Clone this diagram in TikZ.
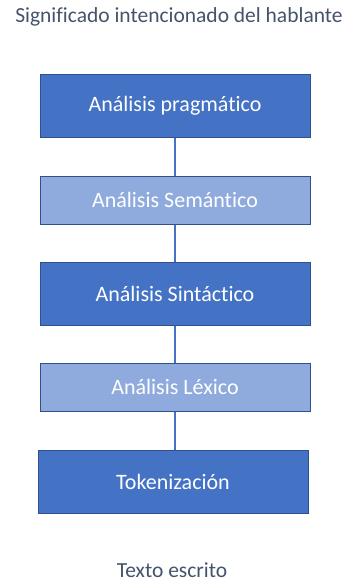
\documentclass[tikz,border=0pt]{standalone}
\usepackage{fontspec}
\setmainfont{Carlito}[Ligatures={NoCommon,NoContextual}]
\definecolor{darkblue}{HTML}{4472C4}
\definecolor{lightblue}{HTML}{8FAADC}
\definecolor{edgeblue}{HTML}{2F528F}
\definecolor{labelgray}{HTML}{44546A}
\begin{document}
\begin{tikzpicture}[x=1pt,y=-1pt,
  stage/.style={draw=edgeblue,line width=1pt,text=white,minimum width=270pt,
    inner sep=0pt,font=\fontsize{22}{26}\selectfont},
  darkstage/.style={stage,fill=darkblue,minimum height=63pt},
  lightstage/.style={stage,fill=lightblue,minimum height=48pt},
  caption/.style={text=labelgray,font=\fontsize{21.5}{26}\selectfont},
  link/.style={draw=darkblue,line width=1.2pt}]
\useasboundingbox (0,0) rectangle (359,582);
\node[caption] (top) at (179,17) {Significado intencionado del hablante};
\node[darkstage]  (p) at (175,105.5) {Análisis pragmático};
\node[lightstage] (s) at (175,200)   {Análisis Semántico};
\node[darkstage]  (y) at (175,293.5) {Análisis Sintáctico};
\node[lightstage] (l) at (175,387)   {Análisis Léxico};
\node[darkstage]  (t) at (173,481.5) {Tokenización};
\node[caption] (bot) at (172,570) {Texto escrito};
\draw[link] (p.south) -- (s.north);
\draw[link] (s.south) -- (y.north);
\draw[link] (y.south) -- (l.north);
\draw[link] (l.south) -- (l.south |- t.north);
\end{tikzpicture}
\end{document}
